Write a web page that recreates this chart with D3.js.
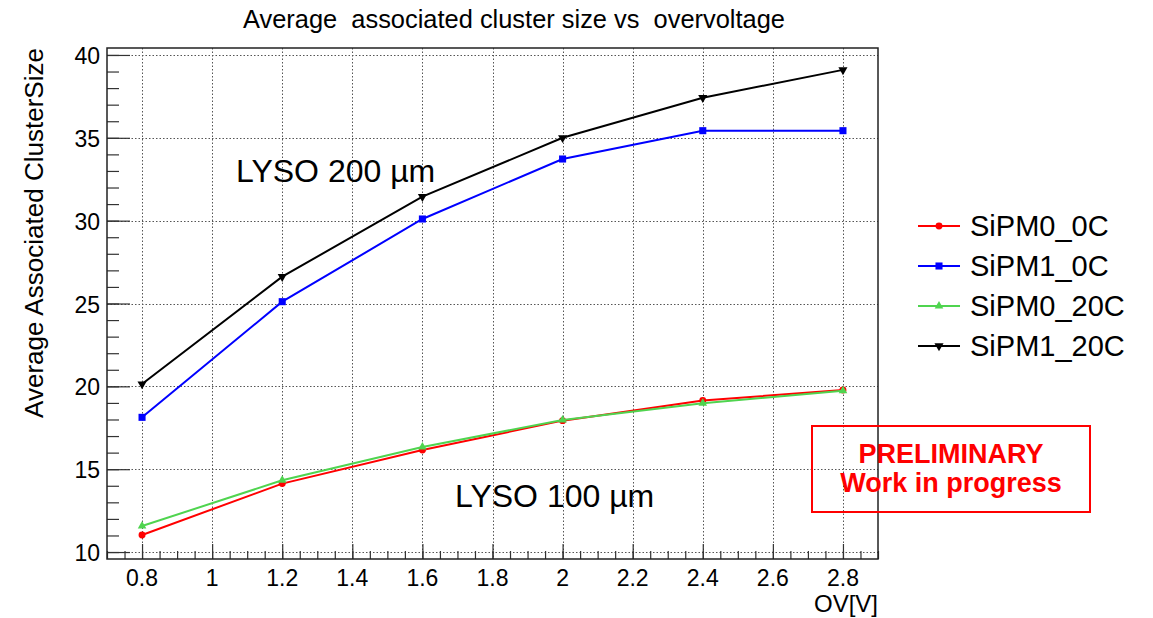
<!DOCTYPE html>
<html>
<head>
<meta charset="utf-8">
<script src="https://cdn.jsdelivr.net/npm/d3@7"></script>
<style>
  body { margin: 0; background: #fff; }
  svg text { font-family: "Liberation Sans", Arial, sans-serif; }
</style>
</head>
<body>
<div id="chart"></div>
<script>
// data
const overvoltage = [0.8, 1.2, 1.6, 2.0, 2.4, 2.8];
const sipm0_0C  = [11.03, 14.13, 16.16, 17.93, 19.14, 19.78];
const sipm1_0C  = [18.13, 25.11, 30.10, 33.72, 35.43, 35.43];
const sipm0_20C = [11.57, 14.33, 16.34, 17.97, 18.98, 19.74];
const sipm1_20C = [20.14, 26.62, 31.45, 35.00, 37.42, 39.10];
const seriesNames = ["SiPM0_0C", "SiPM1_0C", "SiPM0_20C", "SiPM1_20C"];
const xTickValues = [0.8, 1, 1.2, 1.4, 1.6, 1.8, 2, 2.2, 2.4, 2.6, 2.8];
const yTickValues = [10, 15, 20, 25, 30, 35, 40];

const W = 1153, H = 618;
const frame = { left: 107, right: 878, top: 48, bottom: 559 };

const series = [
  { name: seriesNames[0], values: sipm0_0C,  color: "#ff0000", marker: "circle" },
  { name: seriesNames[1], values: sipm1_0C,  color: "#0000ff", marker: "square" },
  { name: seriesNames[2], values: sipm0_20C, color: "#4fd44f", marker: "triUp" },
  { name: seriesNames[3], values: sipm1_20C, color: "#000000", marker: "triDown" }
];

const svg = d3.select("#chart").append("svg")
  .attr("width", W).attr("height", H);

const x = d3.scaleLinear().domain([0.7, 2.9]).range([frame.left, frame.right]);
const y = d3.scaleLinear().domain([9.58, 40.42]).range([frame.bottom, frame.top]);

// grid
const grid = svg.append("g").attr("stroke", "#555").attr("stroke-width", 1)
  .attr("stroke-dasharray", "1.5,2");
grid.selectAll(".gx").data(xTickValues).join("line")
  .attr("x1", d => Math.round(x(d)) + 0.5).attr("x2", d => Math.round(x(d)) + 0.5)
  .attr("y1", frame.top).attr("y2", frame.bottom);
grid.selectAll(".gy").data(yTickValues).join("line")
  .attr("y1", d => Math.round(y(d)) + 0.5).attr("y2", d => Math.round(y(d)) + 0.5)
  .attr("x1", frame.left).attr("x2", frame.right);

// axes, root style: ticks inside the frame
const xMinor = d3.range(0.7, 2.9001, 0.05).map(v => +v.toFixed(2));
const yMinor = d3.range(10, 40.001, 1);

const xAxis = d3.axisTop(x).tickValues(xTickValues).tickSize(15).tickFormat("");
const xAxisMinor = d3.axisTop(x).tickValues(xMinor).tickSize(8).tickFormat("");
const yAxis = d3.axisRight(y).tickValues(yTickValues).tickSize(23).tickFormat("");
const yAxisMinor = d3.axisRight(y).tickValues(yMinor).tickSize(12).tickFormat("");

function styleAxis(g) {
  g.select(".domain").remove();
  g.selectAll(".tick line").attr("stroke", "#333").attr("stroke-width", 1.2);
}
svg.append("g").attr("transform", `translate(0,${frame.bottom})`).call(xAxisMinor).call(styleAxis);
svg.append("g").attr("transform", `translate(0,${frame.bottom})`).call(xAxis).call(styleAxis);
svg.append("g").attr("transform", `translate(${frame.left},0)`).call(yAxisMinor).call(styleAxis);
svg.append("g").attr("transform", `translate(${frame.left},0)`).call(yAxis).call(styleAxis);

// tick labels
svg.append("g").selectAll("text").data(xTickValues).join("text")
  .attr("x", d => x(d)).attr("y", 586)
  .attr("text-anchor", "middle").attr("font-size", 23).attr("fill", "#000")
  .text(d => d3.format("~g")(d));
svg.append("g").selectAll("text").data(yTickValues).join("text")
  .attr("x", 100).attr("y", d => y(d) + 9)
  .attr("text-anchor", "end").attr("font-size", 23).attr("fill", "#000")
  .text(d => d);

// frame
svg.append("rect")
  .attr("x", frame.left).attr("y", frame.top)
  .attr("width", frame.right - frame.left).attr("height", frame.bottom - frame.top)
  .attr("fill", "none").attr("stroke", "#222").attr("stroke-width", 1.5);

// lines + markers
const line = d3.line().x((d, i) => x(overvoltage[i])).y(d => y(d));
const sym = {
  circle: d3.symbol().type(d3.symbolCircle).size(38),
  square: d3.symbol().type(d3.symbolSquare).size(50),
  triUp: d3.symbol().type(d3.symbolTriangle).size(32),
  triDown: d3.symbol().type(d3.symbolTriangle).size(36)
};

series.forEach(s => {
  svg.append("path").datum(s.values)
    .attr("d", line).attr("fill", "none")
    .attr("stroke", s.color).attr("stroke-width", 2);
  svg.append("g").selectAll("path").data(s.values).join("path")
    .attr("d", sym[s.marker]())
    .attr("transform", (d, i) => `translate(${x(overvoltage[i])},${y(d)})` + (s.marker === "triDown" ? " rotate(180)" : ""))
    .attr("fill", s.color);
});

// title
svg.append("text").attr("x", 514).attr("y", 28)
  .attr("text-anchor", "middle").attr("font-size", 25)
  .style("font-family", "'Liberation Sans Narrow', 'Liberation Sans', Arial, sans-serif")
  .style("white-space", "pre")
  .attr("textLength", 542).attr("lengthAdjust", "spacingAndGlyphs")
  .text("Average  associated cluster size vs  overvoltage");

// axis titles
svg.append("text")
  .attr("transform", "translate(43,233) rotate(-90)")
  .attr("text-anchor", "middle").attr("font-size", 25)
  .attr("textLength", 370).attr("lengthAdjust", "spacingAndGlyphs")
  .text("Average Associated ClusterSize");
svg.append("text").attr("x", 878).attr("y", 612)
  .attr("text-anchor", "end").attr("font-size", 24)
  .text("OV[V]");

// annotations
svg.append("text").attr("x", 236).attr("y", 182).attr("font-size", 32)
  .text("LYSO 200 µm");
svg.append("text").attr("x", 455).attr("y", 507).attr("font-size", 32)
  .text("LYSO 100 µm");

// legend
const legend = svg.append("g");
series.forEach((s, i) => {
  const ly = 226 + i * 40;
  legend.append("line").attr("x1", 918).attr("x2", 960).attr("y1", ly).attr("y2", ly)
    .attr("stroke", s.color).attr("stroke-width", 2);
  legend.append("path").attr("d", sym[s.marker]())
    .attr("transform", `translate(939,${ly})` + (s.marker === "triDown" ? " rotate(180)" : ""))
    .attr("fill", s.color);
  legend.append("text").attr("x", 970).attr("y", ly + 10).attr("font-size", 29)
    .text(s.name);
});

// preliminary box
svg.append("rect").attr("x", 812).attr("y", 426).attr("width", 278).attr("height", 86)
  .attr("fill", "none").attr("stroke", "#ff0000").attr("stroke-width", 2);
svg.append("text").attr("x", 951).attr("y", 463).attr("text-anchor", "middle")
  .attr("font-size", 27).attr("font-weight", "bold").attr("fill", "#ff0000")
  .text("PRELIMINARY");
svg.append("text").attr("x", 951).attr("y", 492).attr("text-anchor", "middle")
  .attr("font-size", 27).attr("font-weight", "bold").attr("fill", "#ff0000")
  .text("Work in progress");
</script>
</body>
</html>
